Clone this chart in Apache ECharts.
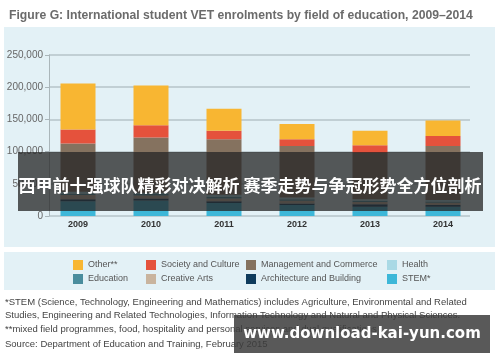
<!DOCTYPE html>
<html>
<head>
<meta charset="utf-8">
<script src="https://cdn.jsdelivr.net/npm/echarts@6/dist/echarts.min.js"></script>
<style>html,body{margin:0;padding:0;background:#fff;}#c{width:500px;height:362px;}</style>
</head>
<body>
<div id="c"></div>
<script>
var years = ['2009', '2010', '2011', '2012', '2013', '2014'];
var stem = [23000, 24000, 20000, 17000, 14500, 14500];
var architecture = [3000, 3000, 3000, 2500, 3700, 2500];
var creativeArts = [6500, 5000, 4000, 4000, 3500, 3500];
var education = [2000, 2000, 3000, 2500, 2000, 2000];
var health = [3000, 2000, 3000, 2800, 2300, 2300];
var management = [75000, 86000, 86000, 80000, 72000, 84000];
var society = [21700, 19100, 13400, 10400, 12000, 15500];
var other = [71400, 61700, 34200, 23800, 22200, 23800];
var yTicks = [0, 50000, 100000, 150000, 200000, 250000];

var FONT = 'Liberation Sans, Arial, sans-serif';
var names = ['STEM*', 'Architecture and Building', 'Creative Arts', 'Education', 'Health', 'Management and Commerce', 'Society and Culture', 'Other**'];
var colors = ['#3db7d8', '#0f3b5c', '#c9b49e', '#4a8d9d', '#a9d9e5', '#85725f', '#e5523c', '#f8b632'];
var values = [stem, architecture, creativeArts, education, health, management, society, other];

var series = names.map(function (n, i) {
  return {
    name: n, type: 'bar', stack: 'all', xAxisIndex: 1, yAxisIndex: 1,
    barWidth: 35, data: values[i], itemStyle: { color: colors[i] }, silent: true
  };
});

function legendCol(left, items) {
  return {
    orient: 'vertical', left: left, top: 260, padding: 0, itemWidth: 10, itemHeight: 10, itemGap: 4,
    icon: 'rect', selectedMode: false, data: items,
    textStyle: { fontFamily: FONT, fontSize: 9, color: '#555' }
  };
}

var chart = echarts.init(document.getElementById('c'), null, { renderer: 'canvas' });
chart.setOption({
  animation: false,
  backgroundColor: '#fff',
  title: {
    text: 'Figure G: International student VET enrolments by field of education, 2009\u20132014',
    left: 4, top: 5,
    textStyle: { fontFamily: FONT, fontSize: 12.2, fontWeight: 'bold', color: '#6b6b6b' }
  },
  legend: [
    legendCol(73, ['Other**', 'Education']),
    legendCol(146, ['Society and Culture', 'Creative Arts']),
    legendCol(246, ['Management and Commerce', 'Architecture and Building']),
    legendCol(387, ['Health', 'STEM*'])
  ],
  grid: [
    { left: 49, right: 30, top: 55, bottom: 146 },
    { left: 41.5, right: 20.5, top: 55, bottom: 146 }
  ],
  xAxis: [
    { type: 'value', gridIndex: 0, show: false, min: 0, max: 1 },
    {
      type: 'category', gridIndex: 1, data: years,
      axisLine: { show: false }, axisTick: { show: false },
      axisLabel: { margin: 4, fontFamily: FONT, fontSize: 9, fontWeight: 'bold', color: '#333' }
    }
  ],
  yAxis: [
    {
      type: 'value', gridIndex: 0, min: 0, max: 250000, interval: 50000,
      axisLine: { show: true, lineStyle: { color: '#aab6ba', width: 1 } },
      axisTick: { show: true, length: 4, lineStyle: { color: '#aab6ba' } },
      splitLine: { show: true, lineStyle: { color: '#b6c3c8', width: 1.5 } },
      axisLabel: {
        margin: 6, fontFamily: FONT, fontSize: 10, color: '#666',
        formatter: function (v) { return v.toLocaleString('en-US'); }
      }
    },
    { type: 'value', gridIndex: 1, min: 0, max: 250000, interval: 50000, show: false, splitLine: { show: false } }
  ],
  series: series,
  graphic: [
    { type: 'rect', z: -10, silent: true, shape: { x: 4, y: 27, width: 491, height: 220 }, style: { fill: '#e3f1f6' } },
    { type: 'rect', z: -10, silent: true, shape: { x: 4, y: 252, width: 491, height: 38 }, style: { fill: '#e3f1f6' } },
    { type: 'text', left: 5, top: 297, silent: true, style: { text: '*STEM (Science, Technology, Engineering and Mathematics) includes Agriculture, Environmental and Related', font: '9.5px ' + FONT, fill: '#444' } },
    { type: 'text', left: 5, top: 310, silent: true, style: { text: 'Studies, Engineering and Related Technologies, Information Technology and Natural and Physical Sciences.', font: '9.5px ' + FONT, fill: '#444' } },
    { type: 'text', left: 5, top: 324, silent: true, style: { text: '**mixed field programmes, food, hospitality and personal services and dual qualifications', font: '9.5px ' + FONT, fill: '#444' } },
    { type: 'text', left: 5, top: 339, silent: true, style: { text: 'Source: Department of Education and Training, February 2015', font: '9.5px ' + FONT, fill: '#444' } },
    { type: 'rect', z: 100, silent: true, shape: { x: 18, y: 152, width: 465, height: 59 }, style: { fill: 'rgba(38,38,38,0.76)' } },
    { type: 'text', z: 101, silent: true, x: 250, y: 186, style: { text: '西甲前十强球队精彩对决解析 赛季走势与争冠形势全方位剖析', font: 'bold 17px "Noto Sans CJK SC", sans-serif', fill: '#fff', textAlign: 'center', textVerticalAlign: 'middle' } },
    { type: 'rect', z: 100, silent: true, shape: { x: 234, y: 315, width: 256, height: 38 }, style: { fill: 'rgba(60,60,60,0.85)' } },
    { type: 'text', z: 101, silent: true, x: 362, y: 334, style: { text: 'www.download-kai-yun.com', font: 'bold 15px "DejaVu Sans", sans-serif', fill: '#fff', textAlign: 'center', textVerticalAlign: 'middle' } }
  ]
});
</script>
</body>
</html>
